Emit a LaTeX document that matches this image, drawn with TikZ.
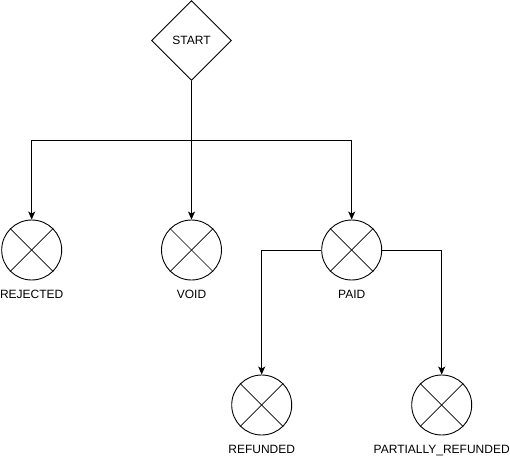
\documentclass[tikz,border=0pt]{standalone}
\usepackage{fontspec}
\setmainfont{Liberation Sans}
\usetikzlibrary{shapes.geometric,arrows.meta}
\begin{document}
\begin{tikzpicture}[x=1pt,y=-1pt,
  font=\fontsize{12}{14}\selectfont,
  line width=0.9pt,
  startbox/.style={draw,diamond,minimum width=80pt,minimum height=80pt,inner sep=0pt},
  state/.style={draw,circle,minimum size=60pt,inner sep=0pt},
  lab/.style={anchor=base,inner sep=0pt},
  arr/.style={-{Stealth[length=8pt,width=7pt,inset=2pt]}}
]
\useasboundingbox (0,0) rectangle (510,457);
\node[startbox] (start) at (191.5,40.5) {START};
\node[state] (rej) at (31.7,250) {};
\node[state] (void) at (191.5,250) {};
\node[state] (paid) at (351.7,250) {};
\node[state] (ref) at (261.7,405) {};
\node[state] (pref) at (441.7,405) {};
\foreach \n in {rej,void,paid,ref,pref}{
  \draw[line width=0.7pt] (\n.north east) -- (\n.south west);
  \draw[line width=0.7pt] (\n.north west) -- (\n.south east);
}
\node[lab] (rejt) at (31.7,298.5) {REJECTED};
\node[lab] (voidt) at (191.5,298.5) {VOID};
\node[lab] (paidt) at (351.7,298.5) {PAID};
\node[lab] (reft) at (261.7,453.5) {REFUNDED};
\node[lab] (preft) at (441.7,453.5) {PARTIALLY\_REFUNDED};
\draw[arr] (start.south) -- ++(0,59.5) -| (rej.north);
\draw[arr] (start.south) -- (void.north);
\draw[arr] (start.south) -- ++(0,59.5) -| (paid.north);
\draw[arr] (paid.west) -| (ref.north);
\draw[arr] (paid.east) -| (pref.north);
\end{tikzpicture}
\end{document}
